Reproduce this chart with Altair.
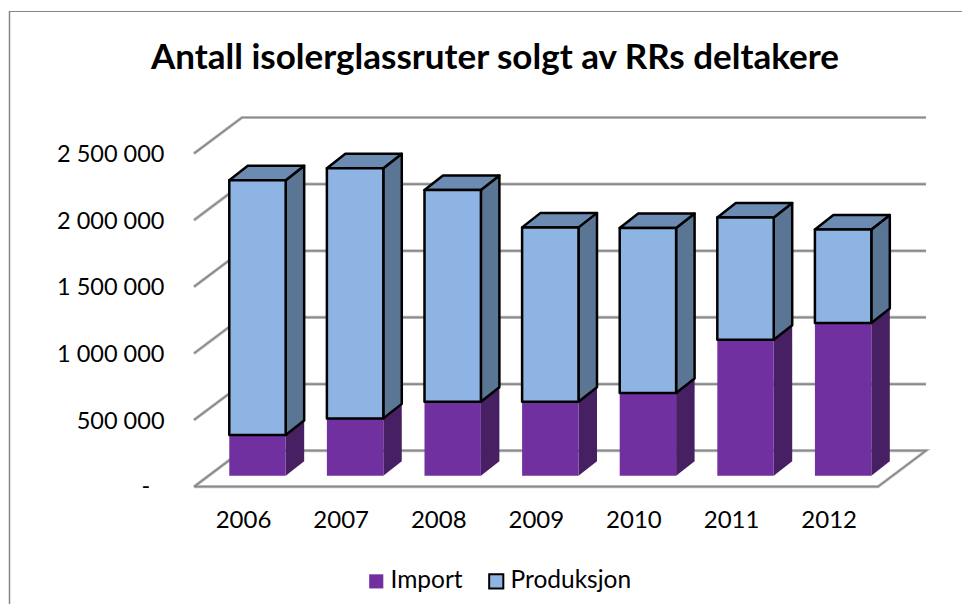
import altair as alt
import pandas as pd

TITLE = "Antall isolerglassruter solgt av RRs deltakere"
years = [2006, 2007, 2008, 2009, 2010, 2011, 2012]
imports = [305000, 430000, 555000, 555000, 620000, 1020000, 1145000]
produksjon = [1912000, 1876000, 1588000, 1308000, 1238000, 917000, 702000]
ticks = [0, 500000, 1000000, 1500000, 2000000, 2500000]
tick_labels = ["-", "500 000", "1 000 000", "1 500 000", "2 000 000", "2 500 000"]
series = ["Import", "Produksjon"]

# layout, expressed in axis units (years / glass panes)
W, H = 954, 596
X_DOM = [2006 - 2.556, 2006 + 7.218]
Y_DOM = [-962600, 3509000]
BAR_HALF = 0.2889
BAR_DX, BAR_DY = 0.1895, 108800
WALL_DX, WALL_DY = 0.4918, 270000
FLOOR_LEFT, FLOOR_RIGHT = 2005.3494, 2012.357
FRONT_SHIFT = -82500
YEAR_LABEL_DX, YEAR_LABEL_Y = -0.143, -340000

FONT = "Lato"
GRID = "#8a8a8a"
GRID_SHADOW = "#c4c4c4"
FRONT = {"Import": "#7030A0", "Produksjon": "#8EB4E3"}
SIDE = {"Import": "#472063", "Produksjon": "#5B7595"}
TOP = {"Produksjon": "#6B8BB3"}
EDGE = {"Import": None, "Produksjon": "#000000"}
BW = 2.5

xs = alt.Scale(domain=X_DOM, range=[0, W], nice=False, zero=False)
ys = alt.Scale(domain=Y_DOM, range=[H, 0], nice=False, zero=False)
X = lambda f: alt.X(f, type="quantitative", scale=xs, axis=None)
Y = lambda f: alt.Y(f, type="quantitative", scale=ys, axis=None)

# grid and walls
grid_rows = []
for t in ticks:
    fy = t + FRONT_SHIFT
    by = fy + WALL_DY
    bl = FLOOR_LEFT + WALL_DX
    br = FLOOR_RIGHT + WALL_DX
    grid_rows += [
        {"k": t, "o": 0, "x": FLOOR_LEFT, "y": fy},
        {"k": t, "o": 1, "x": bl, "y": by},
        {"k": t, "o": 2, "x": br, "y": by},
    ]
    if t == 0:
        grid_rows += [
            {"k": t, "o": 3, "x": FLOOR_RIGHT, "y": fy},
            {"k": t, "o": 4, "x": FLOOR_LEFT, "y": fy},
        ]
grid_df = pd.DataFrame(grid_rows)
grid_shadow = alt.Chart(grid_df).mark_line(color=GRID_SHADOW, strokeWidth=3.2).encode(
    x=X("x"), y=Y("y"), detail="k:N", order="o:Q"
)
grid = alt.Chart(grid_df).mark_line(color=GRID, strokeWidth=1.7).encode(
    x=X("x"), y=Y("y"), detail="k:N", order="o:Q"
)

# bars
front_rows, layers_side, layers_top = [], [], []
for name, vals, bases in [
    ("Import", imports, [0] * 7),
    ("Produksjon", produksjon, imports),
]:
    side_rows, top_rows = [], []
    for yr, v, b in zip(years, vals, bases):
        lo, hi = b, b + v
        xl, xr = yr - BAR_HALF, yr + BAR_HALF
        front_rows.append({"series": name, "xl": xl, "xr": xr, "lo": lo, "hi": hi})
        side_rows += [
            {"yr": yr, "x": xr, "lo": lo, "hi": hi},
            {"yr": yr, "x": xr + BAR_DX, "lo": lo + BAR_DY, "hi": hi + BAR_DY},
        ]
        top_rows += [
            {"yr": yr, "y": hi, "a": xl, "b": xr},
            {"yr": yr, "y": hi + BAR_DY, "a": xl + BAR_DX, "b": xr + BAR_DX},
        ]
    kw = {"stroke": EDGE[name], "strokeWidth": BW, "strokeJoin": "round"} if EDGE[name] else {}
    layers_side.append(
        alt.Chart(pd.DataFrame(side_rows)).mark_area(color=SIDE[name], **kw).encode(
            x=X("x"), y=Y("lo"), y2="hi:Q", detail="yr:N"
        )
    )
    if name in TOP:
        layers_top.append(
            alt.Chart(pd.DataFrame(top_rows)).mark_area(color=TOP[name], orient="horizontal", **kw).encode(
                y=Y("y"), x=X("a"), x2="b:Q", detail="yr:N"
            )
        )

front = alt.Chart(pd.DataFrame(front_rows)).mark_rect(strokeWidth=BW, strokeJoin="round").encode(
    x=X("xl"), x2="xr:Q", y=Y("lo"), y2="hi:Q",
    color=alt.Color("series:N",
        scale=alt.Scale(domain=series, range=[FRONT[s] for s in series]),
        legend=alt.Legend(
            orient="none", legendX=356, legendY=561, direction="horizontal", title=None,
            symbolType="square", symbolSize=200, symbolStrokeWidth=2, symbolOpacity=1,
            labelFont=FONT, labelFontSize=24.5, labelColor="#000000", labelOffset=2,
            columnPadding=21, padding=0, labelLimit=300,
        )),
    stroke=alt.Stroke("series:N",
        scale=alt.Scale(domain=series, range=["transparent", "#000000"]), legend=None),
)

# texts
year_text = alt.Chart(pd.DataFrame({"t": [str(y) for y in years],
                                    "x": [y + YEAR_LABEL_DX for y in years],
                                    "y": [YEAR_LABEL_Y] * 7})).mark_text(
    font=FONT, fontSize=24, color="#000000", align="center", baseline="middle"
).encode(x=X("x"), y=Y("y"), text="t:N")

val_text = alt.Chart(pd.DataFrame({"t": tick_labels[1:],
                                   "y": [v + FRONT_SHIFT for v in ticks[1:]],
                                   "x": [2005.0475] * 5})).mark_text(
    font=FONT, fontSize=23.5, color="#000000", align="right", baseline="middle", dy=1.5
).encode(x=X("x"), y=Y("y"), text="t:N")

dash_text = alt.Chart(pd.DataFrame({"t": tick_labels[:1], "y": [FRONT_SHIFT], "x": [2004.9]})).mark_text(
    font=FONT, fontSize=23.5, color="#000000", align="right", baseline="middle"
).encode(x=X("x"), y=Y("y"), text="t:N")

title = alt.Chart(pd.DataFrame({"t": [TITLE]})).mark_text(
    font=FONT, fontSize=35, fontWeight="bold", color="#000000", align="center", baseline="middle"
).encode(x=alt.value(487), y=alt.value(50), text="t:N")

frame_top = alt.Chart(pd.DataFrame({"k": [0]})).mark_rule(color="#868686", strokeWidth=1).encode(
    x=alt.value(1), x2=alt.value(W), y=alt.value(3.5)
)
frame_left = alt.Chart(pd.DataFrame({"k": [0]})).mark_rule(color="#868686", strokeWidth=1.5).encode(
    x=alt.value(1.5), y=alt.value(3), y2=alt.value(H)
)

chart = alt.layer(
    frame_top, frame_left, grid_shadow, grid, *layers_side, *layers_top, front,
    year_text, val_text, dash_text, title,
).properties(
    width=W, height=H, padding=0, autosize=alt.AutoSizeParams(type="none"), background="#ffffff",
).configure_view(stroke=None)

chart.save("out.html", embed_options={"renderer": "svg", "actions": False})
